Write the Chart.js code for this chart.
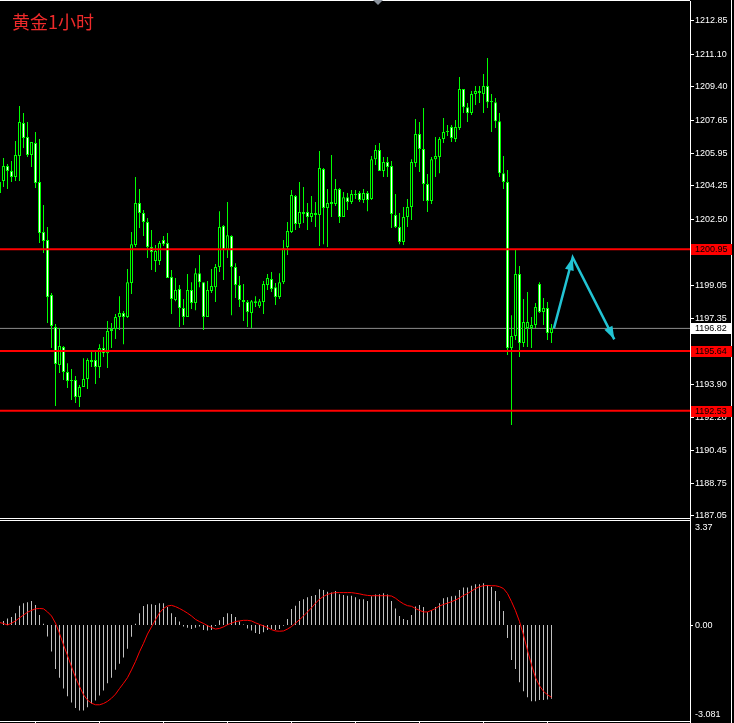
<!DOCTYPE html>
<html>
<head>
<meta charset="utf-8">
<title>黄金1小时</title>
<script src="https://cdn.jsdelivr.net/npm/chart.js@4"></script>
<style>
    html, body { margin: 0; padding: 0; background: #000; }
    #wrap { position: relative; width: 734px; height: 723px; background: #000; overflow: hidden; }
    canvas { position: absolute; left: 0; }
    #priceChart { top: 0; width: 734px; height: 519px; }
    #macdChart { top: 519px; width: 734px; height: 204px; }
</style>
</head>
<body>
<div id="wrap">
    <canvas id="priceChart" width="734" height="519"></canvas>
    <canvas id="macdChart" width="734" height="204"></canvas>
</div>
<script>
// Gold 1H candles (index 0 = leftmost, partly cut off)
const opens = [
    1204.45, 1204.50, 1205.28, 1205.02, 1204.71, 1205.80, 1207.52, 1206.79, 1205.85, 1206.48,
    1204.45, 1201.84, 1201.42, 1198.56, 1196.89, 1194.91, 1195.85, 1194.55, 1194.08, 1194.13,
    1193.24, 1193.76, 1194.18, 1195.17, 1195.17, 1194.81, 1195.80, 1195.53, 1196.68, 1196.79,
    1197.41, 1197.62, 1197.41, 1199.18, 1201.16, 1203.35, 1202.83, 1202.36, 1201.06, 1200.33,
    1200.33, 1201.42, 1201.27, 1199.50, 1198.30, 1198.87, 1197.88, 1197.41, 1198.82, 1198.14,
    1199.70, 1199.23, 1197.41, 1198.77, 1198.97, 1200.02, 1202.15, 1200.90, 1201.63, 1200.02,
    1199.08, 1198.30, 1198.19, 1197.62, 1198.24, 1197.98, 1198.19, 1199.08, 1199.39, 1198.97,
    1198.45, 1199.23, 1201.06, 1201.84, 1203.72, 1202.26, 1202.88, 1202.88, 1202.62, 1202.83,
    1202.73, 1205.12, 1203.09, 1203.30, 1203.30, 1204.08, 1202.62, 1203.66, 1203.40, 1203.82,
    1203.87, 1203.51, 1203.87, 1203.56, 1205.64, 1206.11, 1205.02, 1205.49, 1205.28, 1202.73,
    1202.10, 1201.32, 1202.62, 1203.14, 1205.44, 1206.95, 1206.17, 1204.34, 1203.46, 1205.64,
    1205.75, 1206.69, 1207.05, 1207.31, 1206.69, 1207.26, 1209.29, 1208.35, 1208.04, 1209.03,
    1209.19, 1209.03, 1209.45, 1208.67, 1208.61, 1207.62, 1204.91, 1204.45, 1195.80, 1196.42,
    1199.65, 1196.06, 1196.84, 1196.84, 1197.00, 1199.13, 1197.67, 1197.88, 1196.58
];
const highs = [
    1204.55, 1205.70, 1205.38, 1205.54, 1206.58, 1208.41, 1208.04, 1207.57, 1206.53, 1207.05,
    1206.69, 1203.25, 1202.10, 1198.66, 1197.05, 1196.84, 1195.90, 1195.01, 1194.70, 1194.34,
    1193.87, 1195.27, 1195.27, 1195.64, 1195.59, 1196.00, 1196.37, 1197.20, 1197.10, 1197.57,
    1198.50, 1197.72, 1199.91, 1201.84, 1204.71, 1204.08, 1202.99, 1202.57, 1201.95, 1201.16,
    1201.37, 1201.63, 1201.79, 1199.86, 1199.44, 1199.08, 1198.35, 1199.65, 1199.23, 1199.96,
    1200.64, 1199.23, 1199.29, 1199.91, 1200.17, 1202.93, 1202.21, 1203.40, 1201.68, 1200.22,
    1199.55, 1199.13, 1198.30, 1198.30, 1198.50, 1198.35, 1199.29, 1199.65, 1199.76, 1199.18,
    1199.70, 1201.42, 1202.36, 1204.03, 1203.77, 1204.45, 1204.19, 1203.35, 1203.72, 1203.40,
    1206.06, 1205.18, 1204.08, 1205.85, 1204.60, 1204.13, 1203.93, 1203.87, 1204.03, 1204.03,
    1203.98, 1204.08, 1203.98, 1205.80, 1206.37, 1206.48, 1205.75, 1205.75, 1205.54, 1203.82,
    1202.83, 1203.14, 1203.56, 1205.64, 1207.73, 1207.57, 1208.30, 1204.86, 1205.75, 1206.79,
    1206.79, 1207.78, 1207.42, 1207.42, 1207.68, 1209.92, 1209.29, 1208.56, 1209.19, 1209.45,
    1209.45, 1210.07, 1210.91, 1209.03, 1208.82, 1208.04, 1205.80, 1205.07, 1197.51, 1200.95,
    1200.07, 1198.35, 1198.71, 1197.41, 1198.14, 1199.23, 1198.40, 1198.19, 1197.05
];
const lows = [
    1203.82, 1204.19, 1204.08, 1204.45, 1204.50, 1204.50, 1206.22, 1205.75, 1205.23, 1204.13,
    1201.27, 1200.75, 1197.10, 1195.80, 1192.77, 1194.49, 1194.13, 1193.71, 1193.09, 1192.93,
    1192.72, 1193.76, 1193.66, 1194.81, 1193.92, 1194.23, 1195.33, 1194.75, 1195.80, 1196.27,
    1196.73, 1196.00, 1197.36, 1198.61, 1201.06, 1202.05, 1201.63, 1200.49, 1199.86, 1199.76,
    1200.12, 1201.11, 1199.44, 1197.57, 1198.24, 1196.89, 1197.00, 1197.41, 1197.83, 1197.77,
    1198.97, 1196.73, 1197.41, 1198.66, 1198.19, 1199.76, 1199.34, 1200.49, 1197.51, 1198.40,
    1197.93, 1197.20, 1196.89, 1196.84, 1197.93, 1197.88, 1197.57, 1198.82, 1198.71, 1198.04,
    1198.35, 1199.13, 1200.64, 1201.79, 1201.95, 1202.05, 1202.31, 1201.95, 1202.36, 1202.10,
    1201.11, 1201.21, 1201.06, 1202.62, 1203.20, 1202.31, 1202.62, 1202.99, 1203.30, 1203.56,
    1203.40, 1203.35, 1202.93, 1203.51, 1205.33, 1205.02, 1204.71, 1204.71, 1202.05, 1202.05,
    1201.21, 1201.16, 1202.10, 1202.47, 1205.23, 1204.97, 1203.46, 1202.88, 1203.30, 1204.71,
    1204.91, 1206.48, 1206.84, 1206.53, 1206.53, 1207.16, 1208.04, 1207.57, 1207.94, 1208.46,
    1208.56, 1208.04, 1208.30, 1207.05, 1207.26, 1204.71, 1204.08, 1195.43, 1191.78, 1196.21,
    1195.33, 1195.85, 1195.85, 1195.80, 1196.84, 1197.62, 1197.00, 1196.21, 1196.06
];
const closes = [
    1203.87, 1205.28, 1205.02, 1204.71, 1205.85, 1207.57, 1206.74, 1205.85, 1206.53, 1204.39,
    1201.79, 1201.37, 1198.45, 1196.94, 1194.96, 1195.90, 1194.55, 1194.08, 1194.13, 1193.24,
    1193.76, 1194.18, 1195.17, 1195.07, 1194.81, 1195.80, 1195.53, 1196.68, 1196.79, 1197.41,
    1197.62, 1197.41, 1199.23, 1201.21, 1203.35, 1202.83, 1202.36, 1201.06, 1200.80, 1200.85,
    1201.27, 1201.21, 1199.44, 1198.35, 1198.82, 1197.88, 1197.41, 1198.82, 1198.14, 1199.70,
    1199.23, 1197.41, 1198.82, 1199.03, 1200.02, 1202.10, 1200.90, 1201.68, 1200.02, 1199.08,
    1198.30, 1198.19, 1197.67, 1198.24, 1198.14, 1198.24, 1199.13, 1199.44, 1198.87, 1198.45,
    1199.23, 1201.00, 1201.89, 1203.77, 1202.26, 1202.88, 1202.78, 1202.62, 1202.83, 1202.73,
    1205.18, 1203.09, 1203.35, 1203.40, 1204.08, 1202.62, 1203.66, 1203.40, 1203.82, 1203.77,
    1203.51, 1203.87, 1203.51, 1205.64, 1206.11, 1205.02, 1205.49, 1205.23, 1202.78, 1202.10,
    1201.32, 1202.62, 1203.14, 1205.49, 1206.95, 1206.17, 1204.34, 1203.46, 1205.64, 1205.80,
    1206.69, 1207.05, 1207.10, 1206.74, 1207.31, 1209.29, 1208.35, 1208.04, 1209.03, 1209.19,
    1209.08, 1209.45, 1208.61, 1208.61, 1207.62, 1204.91, 1204.45, 1195.80, 1196.42, 1199.65,
    1196.06, 1197.15, 1197.15, 1197.00, 1197.93, 1197.67, 1197.88, 1196.58, 1196.82
];

// MACD(12,26,9): histogram = main line, red = signal
const macdHist = [
    0.07, 0.13, 0.21, 0.26, 0.38, 0.62, 0.70, 0.73, 0.77, 0.64,
    0.32, 0.04, -0.37, -0.85, -1.41, -1.69, -2.04, -2.29, -2.49, -2.66,
    -2.74, -2.74, -2.64, -2.52, -2.42, -2.26, -2.10, -1.87, -1.69, -1.44,
    -1.24, -1.04, -0.76, -0.38, 0.04, 0.38, 0.61, 0.67, 0.67, 0.64,
    0.70, 0.70, 0.58, 0.38, 0.26, 0.11, -0.05, -0.09, -0.13, -0.09,
    -0.05, -0.16, -0.18, -0.16, -0.03, 0.15, 0.26, 0.38, 0.35, 0.26,
    0.11, 0.02, -0.11, -0.18, -0.26, -0.29, -0.23, -0.16, -0.13, -0.16,
    -0.13, -0.02, 0.19, 0.51, 0.62, 0.77, 0.83, 0.89, 0.93, 0.96,
    1.15, 1.12, 1.07, 1.04, 1.09, 0.99, 0.96, 0.94, 0.94, 0.89,
    0.83, 0.83, 0.77, 0.92, 0.98, 0.99, 1.02, 0.98, 0.77, 0.53,
    0.29, 0.19, 0.16, 0.32, 0.59, 0.64, 0.58, 0.42, 0.48, 0.58,
    0.70, 0.86, 0.89, 0.92, 0.94, 1.12, 1.20, 1.20, 1.26, 1.31,
    1.31, 1.34, 1.28, 1.22, 1.09, 0.77, 0.45, -0.42, -1.12, -1.41,
    -1.84, -2.13, -2.32, -2.45, -2.45, -2.41, -2.41, -2.39, -2.37
];
const macdSignal = [
    0.08, 0.05, 0.00, 0.06, 0.13, 0.23, 0.32, 0.41, 0.47, 0.52,
    0.53, 0.52, 0.42, 0.29, 0.06, -0.27, -0.64, -0.98, -1.34, -1.68,
    -1.97, -2.24, -2.41, -2.51, -2.56, -2.56, -2.52, -2.45, -2.35, -2.22,
    -2.04, -1.87, -1.69, -1.44, -1.17, -0.86, -0.59, -0.29, -0.06, 0.17,
    0.39, 0.53, 0.61, 0.63, 0.59, 0.53, 0.46, 0.38, 0.29, 0.18,
    0.11, 0.05, -0.02, -0.08, -0.13, -0.11, -0.06, 0.01, 0.06, 0.11,
    0.13, 0.15, 0.15, 0.13, 0.07, 0.02, -0.03, -0.08, -0.15, -0.19,
    -0.20, -0.19, -0.13, -0.05, 0.06, 0.17, 0.29, 0.42, 0.55, 0.70,
    0.83, 0.92, 0.98, 1.02, 1.04, 1.04, 1.04, 1.04, 1.04, 1.02,
    1.00, 0.97, 0.95, 0.94, 0.94, 0.94, 0.94, 0.94, 0.93, 0.86,
    0.76, 0.68, 0.62, 0.60, 0.53, 0.47, 0.42, 0.42, 0.47, 0.53,
    0.61, 0.66, 0.70, 0.75, 0.80, 0.87, 0.95, 1.01, 1.09, 1.17,
    1.23, 1.26, 1.27, 1.26, 1.26, 1.23, 1.17, 1.01, 0.75, 0.46,
    0.11, -0.32, -0.82, -1.28, -1.69, -1.95, -2.13, -2.24, -2.32
];

const priceTicks = [1187.05, 1188.75, 1190.45, 1192.20, 1193.90, 1195.60, 1197.35, 1199.05,
    1200.80, 1202.50, 1204.25, 1205.95, 1207.65, 1209.40, 1211.10, 1212.85];
const levels = [1200.95, 1195.64, 1192.53];
const lastPrice = 1196.82;
const arrowX = [138.6, 143.3, 153.7];
const arrowY = [1196.82, 1200.52, 1196.25];
const macdMax = 3.37;
const macdMin = -3.081;
const timeMarks = [9, 25, 41, 57, 73, 89, 105, 121, 137];

const X_MIN = 0.125;
const X_MAX = 172.625;
const GREEN = '#00ff00';
const AXIS_FONT = '9px "Liberation Sans"';

const hLine = v => [{ x: X_MIN, y: v }, { x: X_MAX, y: v }];

function arrowHead(ctx, from, to, len, half) {
    const dx = to.x - from.x, dy = to.y - from.y;
    const d = Math.hypot(dx, dy);
    const ux = dx / d, uy = dy / d;
    const bx = to.x - ux * len, by = to.y - uy * len;
    ctx.beginPath();
    ctx.moveTo(to.x, to.y);
    ctx.lineTo(bx - uy * half, by + ux * half);
    ctx.lineTo(bx + uy * half, by - ux * half);
    ctx.closePath();
    ctx.fill();
}

// frame, title, price tags, arrow heads
const priceDecor = {
    id: 'priceDecor',
    afterDraw(chart) {
        const ctx = chart.ctx;
        const y = chart.scales.y;
        ctx.save();
        ctx.fillStyle = '#ffffff';
        ctx.fillRect(0, 0, 690, 1);
        ctx.fillRect(0, 518, 690, 1);
        ctx.fillRect(731, 0, 1, 519);

        ctx.fillStyle = '#8a929c';
        ctx.beginPath();
        ctx.moveTo(373, 0);
        ctx.lineTo(383, 0);
        ctx.lineTo(378, 5);
        ctx.closePath();
        ctx.fill();

        ctx.fillStyle = '#ee2a2a';
        ctx.font = '18px "Noto Sans CJK SC"';
        ctx.textBaseline = 'middle';
        ctx.textAlign = 'left';
        ctx.fillText('黄金1小时', 12, 22);

        const tag = (v, bg) => {
            const py = Math.round(y.getPixelForValue(v));
            ctx.fillStyle = bg;
            ctx.fillRect(691, py - 5, 41, 11);
            ctx.fillStyle = '#000000';
            ctx.font = AXIS_FONT;
            ctx.fillText(v.toFixed(2), 695, py + 0.5);
        };
        levels.forEach(v => tag(v, '#ff0000'));
        tag(lastPrice, '#ffffff');

        const pts = chart.getDatasetMeta(3).data;
        ctx.fillStyle = '#22c4d4';
        arrowHead(ctx, pts[0], pts[1], 13, 4.5);
        arrowHead(ctx, pts[1], pts[2], 13, 4.5);
        ctx.restore();
    }
};

const macdDecor = {
    id: 'macdDecor',
    afterDraw(chart) {
        const ctx = chart.ctx;
        const y = chart.scales.y;
        const x = chart.scales.x;
        ctx.save();
        ctx.fillStyle = '#ffffff';
        ctx.fillRect(0, 1, 690, 1);
        ctx.fillRect(0, 202, 690, 1);
        ctx.fillRect(690, 0, 1, 204);
        ctx.fillRect(731, 0, 1, 204);
        timeMarks.forEach(i => ctx.fillRect(Math.floor(x.getPixelForValue(i)), 202, 1, 2));
        const zero = Math.round(y.getPixelForValue(0));
        ctx.fillRect(690, zero, 3, 1);

        ctx.font = AXIS_FONT;
        ctx.textBaseline = 'middle';
        ctx.textAlign = 'left';
        ctx.fillText(macdMax.toFixed(2), 695, y.top + 8);
        ctx.fillText('0.00', 695, zero + 0.5);
        ctx.fillText(macdMin.toFixed(3), 695, y.bottom - 6);
        ctx.restore();
    }
};

const wickData = highs.map((h, i) => ({ x: i, y: [lows[i], h] }));
const bodyData = opens.map((o, i) => ({ x: i, y: [Math.min(o, closes[i]), Math.max(o, closes[i])] }));
const bodyFill = opens.map((o, i) => closes[i] >= o ? '#000000' : '#ffffff');

const priceChart = new Chart(document.getElementById('priceChart'), {
    type: 'bar',
    data: {
        datasets: [
            ...levels.map(v => ({
                type: 'line', data: hLine(v), borderColor: '#ff0000', borderWidth: 2,
                pointRadius: 0, order: 0
            })),
            {
                type: 'line',
                data: arrowX.map((v, i) => ({ x: v, y: arrowY[i] })),
                borderColor: '#22c4d4', borderWidth: 2.5, pointRadius: 0, order: 1
            },
            {
                data: bodyData, backgroundColor: bodyFill, borderColor: GREEN, borderWidth: 1,
                borderSkipped: false, barThickness: 3, grouped: false, inflateAmount: 0, order: 2
            },
            {
                data: wickData, backgroundColor: GREEN, borderWidth: 0,
                barThickness: 1, grouped: false, inflateAmount: 0, order: 3
            },
            {
                type: 'line', data: hLine(lastPrice), borderColor: '#8c8c8c', borderWidth: 1,
                pointRadius: 0, order: 4
            }
        ]
    },
    options: {
        responsive: false,
        animation: false,
        events: [],
        layout: { padding: { top: 1, bottom: 1, left: 0, right: 0 } },
        plugins: { legend: { display: false }, tooltip: { enabled: false } },
        scales: {
            x: { type: 'linear', min: X_MIN, max: X_MAX, display: false, offset: false },
            y: {
                position: 'right',
                min: 1186.94,
                max: 1213.88,
                afterFit: s => { s.width = 44; s.paddingTop = 0; s.paddingBottom = 0; },
                afterBuildTicks: s => { s.ticks = priceTicks.map(v => ({ value: v })); },
                ticks: {
                    color: '#ffffff',
                    font: { family: 'Liberation Sans', size: 9 },
                    padding: 1,
                    autoSkip: false,
                    callback: v => v.toFixed(2)
                },
                grid: { drawOnChartArea: false, color: '#ffffff', tickColor: '#ffffff', tickLength: 4 },
                border: { color: '#ffffff' }
            }
        }
    },
    plugins: [priceDecor]
});

const macdChart = new Chart(document.getElementById('macdChart'), {
    type: 'bar',
    data: {
        datasets: [
            {
                type: 'line',
                data: macdSignal.map((v, i) => ({ x: i, y: v })),
                borderColor: '#ff0000', borderWidth: 1, pointRadius: 0, order: 0
            },
            {
                data: macdHist.map((v, i) => ({ x: i, y: v })),
                backgroundColor: '#c0c0c0', borderWidth: 0,
                barThickness: 1, grouped: false, inflateAmount: 0, order: 1
            }
        ]
    },
    options: {
        responsive: false,
        animation: false,
        events: [],
        layout: { padding: { top: 1, bottom: 2, left: 0, right: 0 } },
        plugins: { legend: { display: false }, tooltip: { enabled: false } },
        scales: {
            x: { type: 'linear', min: X_MIN, max: X_MAX, display: false, offset: false },
            y: {
                position: 'right',
                min: macdMin,
                max: macdMax,
                afterFit: s => { s.width = 44; s.paddingTop = 0; s.paddingBottom = 0; },
                ticks: { display: false },
                grid: { display: false },
                border: { display: false }
            }
        }
    },
    plugins: [macdDecor]
});
</script>
</body>
</html>
